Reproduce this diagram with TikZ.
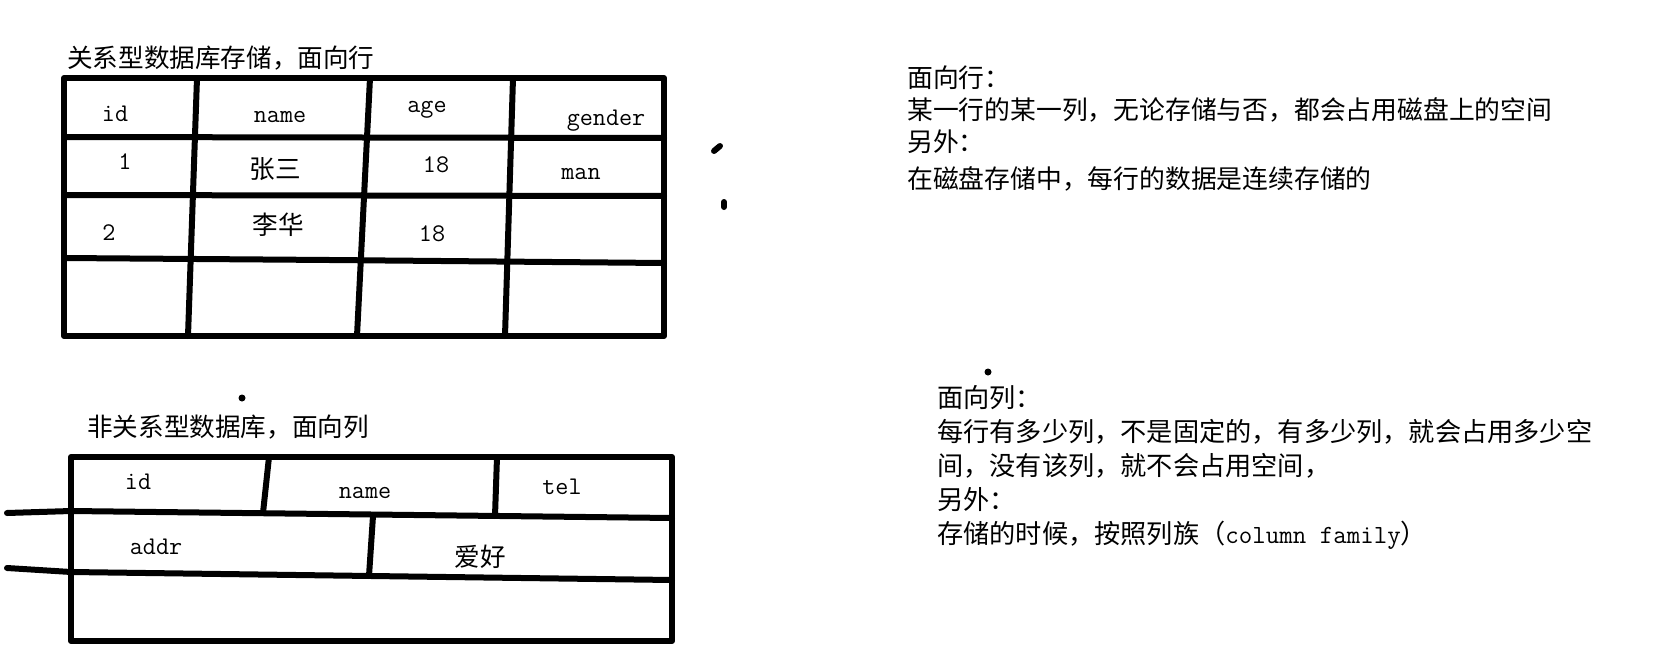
\documentclass[tikz,border=0pt]{standalone}
\usepackage{fontspec}
\newfontfamily\cjk{Noto Sans CJK SC}

\begin{document}
\begin{tikzpicture}[x=1pt,y=-1pt]
  \tikzstyle{every node}=[inner sep=0pt, font=\fontsize{25.6}{30}\selectfont\cjk]
  \tikzstyle{pen}=[line width=6pt, line join=round, line cap=round]
  \tikzstyle{cell}=[font=\fontsize{25.4}{30}\selectfont\ttfamily]
  \useasboundingbox[fill=white] (0,0) rectangle (1657,656);

  \node[anchor=west] (rowtitle) at (67,58) {关系型数据库存储，面向行};
  \draw[pen] (64,78) rectangle (664,336);
  \draw[pen] (64,137) -- (664,138);
  \draw[pen] (64,195) -- (664,196);
  \draw[pen] (64,258) -- (330,260) -- (664,263);
  \draw[pen] (197,78) -- (188,336);
  \draw[pen] (370,78) -- (357,336);
  \draw[pen] (513,78) -- (505,336);
  \node[cell] (rid) at (115,114) {id};
  \node[cell] (rname) at (280,117) {name};
  \node[cell] (rage) at (427,110) {age};
  \node[cell] (rgender) at (606,121) {gender};
  \node[cell] (rid1) at (125,162) {1};
  \node (rname1) at (275,169) {张三};
  \node[cell] (rage1) at (436,165) {18};
  \node[cell] (rgender1) at (581,174) {man};
  \node[cell] (rid2) at (109,233) {2};
  \node (rname2) at (278,225) {李华};
  \node[cell] (rage2) at (432,234) {18};

  \node[anchor=west] (coltitle) at (87,427) {非关系型数据库，面向列};
  \draw[pen] (71,457) rectangle (672,641);
  \draw[pen] (7,513) -- (71,511) -- (672,518);
  \draw[pen] (7,568) -- (71,572) -- (672,580);
  \draw[pen] (269,457) -- (263,513);
  \draw[pen] (497,457) -- (495,516);
  \draw[pen] (373,516) -- (369,576);
  \node[cell] (cid) at (138,482) {id};
  \node[cell] (cname) at (365,493) {name};
  \node[cell] (ctel) at (562,487) {tel};
  \node[cell] (caddr) at (156,547) {addr};
  \node (chobby) at (480,557) {爱好};

  \draw[pen] (714,151) -- (720,146);
  \draw[pen] (724,202) -- (724,207);
  \fill (242,398) circle (3.5);
  \fill (988,372) circle (3.5);

  \node[anchor=north west, align=left, font=\fontsize{25.8}{32}\selectfont\cjk] (rownote) at (907,66)
    {面向行：\\某一行的某一列，无论存储与否，都会占用磁盘上的空间\\另外：\\[5pt]在磁盘存储中，每行的数据是连续存储的};
  \node[anchor=north west, align=left, font=\fontsize{26.2}{34}\selectfont\cjk] (colnote) at (937,385)
    {面向列：\\每行有多少列，不是固定的，有多少列，就会占用多少空\\间，没有该列，就不会占用空间，\\另外：\\存储的时候，按照列族（{\ttfamily column family}）};
\end{tikzpicture}
\end{document}
